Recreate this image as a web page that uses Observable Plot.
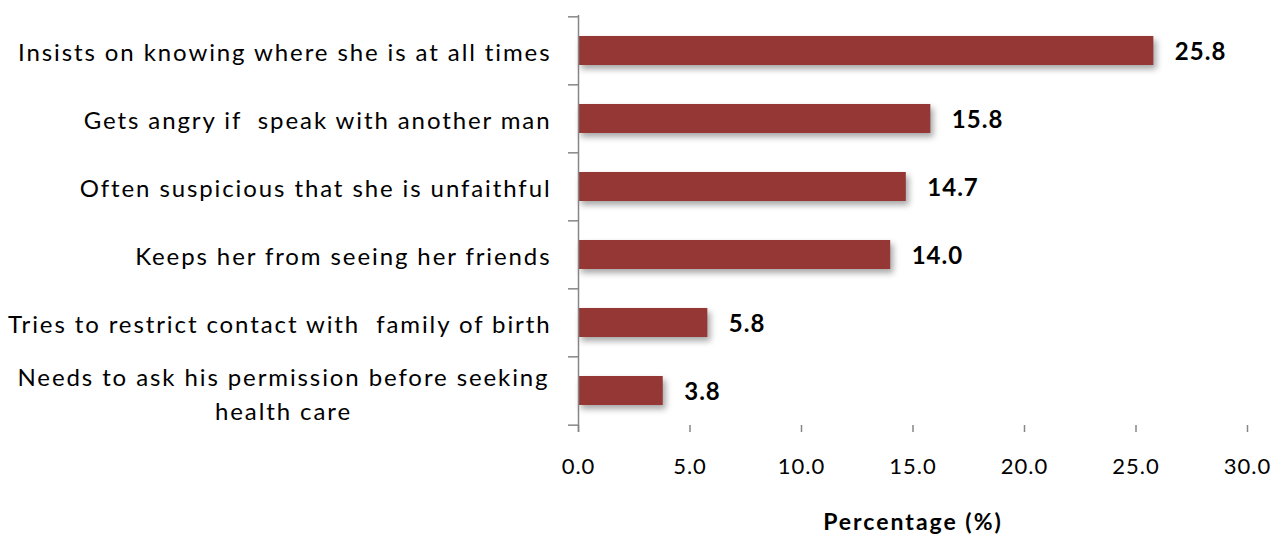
<!DOCTYPE html>
<html>
<head>
<meta charset="utf-8">
<script src="https://cdn.jsdelivr.net/npm/d3@7"></script>
<script src="https://cdn.jsdelivr.net/npm/@observablehq/plot@0.6"></script>
<style>
  html, body { margin: 0; padding: 0; background: #fff; }
  #chart svg { display: block; }
</style>
</head>
<body>
<div id="chart"></div>
<script>
const categories = [
  "Insists on knowing where she is at all times",
  "Gets angry if  speak with another man",
  "Often suspicious that she is unfaithful",
  "Keeps her from seeing her friends",
  "Tries to restrict contact with  family of birth",
  "Needs to ask his permission before seeking\nhealth care"
];
const values = [25.8, 15.8, 14.7, 14.0, 5.8, 3.8];
const xTicks = [0, 5, 10, 15, 20, 25, 30];
const axisTitle = "Percentage (%)";

const data = categories.map((c, i) => ({category: c, value: values[i]}));
const last = categories[categories.length - 1];

const W = 1276, H = 538, mt = 15, mb = 113, ml = 578, mr = 29;
const step = (H - mt - mb) / categories.length;
const axisColor = "#868686";
const font = "Lato, 'Open Sans', sans-serif";

const chart = Plot.plot({
  width: W,
  height: H,
  marginTop: mt,
  marginBottom: mb,
  marginLeft: ml,
  marginRight: mr,
  style: {fontFamily: font, background: "#fff", overflow: "visible"},
  x: {domain: [0, 30]},
  y: {domain: categories, paddingInner: 0.575, paddingOuter: 0.2875},
  marks: [
    Plot.barX(data, {x: "value", y: "category", fill: "#953735"}),
    // category boundary ticks on the y axis
    Plot.ruleY(categories, {y: d => d, x1: -0.45, x2: 0, dy: -step / 2, stroke: axisColor, strokeWidth: 1.5}),
    Plot.ruleY([last], {y: d => d, x1: -0.45, x2: 0, dy: step / 2, stroke: axisColor, strokeWidth: 1.5}),
    Plot.ruleX([0], {stroke: axisColor, strokeWidth: 1.5, insetBottom: -7}),
    Plot.axisX({
      ticks: xTicks,
      tickFormat: d3.format(".1f"),
      tickSize: 7,
      tickPadding: 26,
      line: true,
      stroke: axisColor,
      strokeWidth: 1.5,
      color: "#000",
      fontSize: 22,
      label: null
    }),
    Plot.axisX({
      ticks: [],
      label: axisTitle,
      labelAnchor: "center",
      labelArrow: "none",
      labelOffset: 104,
      fontWeight: "bold",
      fontSize: 23,
      color: "#000"
    }),
    Plot.axisY({
      tickSize: 0,
      tickPadding: 27,
      dy: 2,
      tickFormat: d => d === last ? "" : d,
      fontSize: 24,
      color: "#000",
      label: null
    }),
    Plot.text([last], {
      y: d => d,
      text: d => d,
      frameAnchor: "left",
      textAnchor: "middle",
      dx: -295,
      dy: 1,
      lineHeight: 1.42,
      fontSize: 24,
      fill: "#000"
    }),
    Plot.text(data, {
      x: "value",
      y: "category",
      text: d => d.value.toFixed(1),
      textAnchor: "start",
      dx: 21,
      dy: 1,
      fontSize: 24,
      fontWeight: "bold",
      fill: "#000"
    })
  ]
});

const svg = d3.select(chart);
svg.selectAll("g[aria-label='bar'] rect")
  .style("filter", "drop-shadow(3px 4px 3px rgba(0,0,0,0.35))");
svg.selectAll("g[aria-label='y-axis tick label'] text").style("letter-spacing", "1.9px");
svg.selectAll("g[aria-label='x-axis tick label'] text").style("letter-spacing", "1px");
svg.selectAll("g[aria-label='x-axis label'] text").style("letter-spacing", "2px");
const textGroups = svg.selectAll("g[aria-label='text']").nodes();
d3.select(textGroups[0]).selectAll("text").style("letter-spacing", "1.9px");
d3.select(textGroups[1]).selectAll("text").style("letter-spacing", "1px");

document.getElementById("chart").appendChild(chart);
</script>
</body>
</html>
